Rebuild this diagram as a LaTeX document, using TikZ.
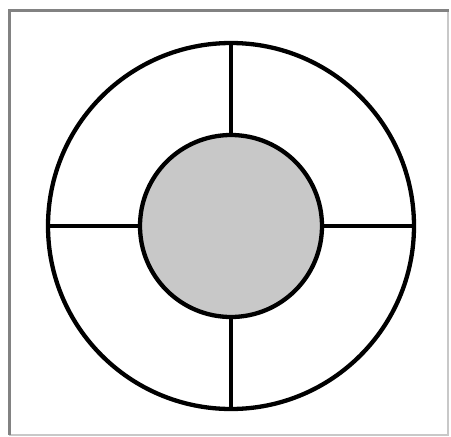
\documentclass[tikz,border=0pt]{standalone}
\begin{document}
\begin{tikzpicture}[x=1pt,y=-1pt]
\path[use as bounding box,fill=white] (0,0) rectangle (451,437);
\tikzset{ring/.style={circle,draw=black,line width=4.3pt,inner sep=0pt,outer sep=0pt}}
% frame
\draw[draw={rgb,255:red,200;green,200;blue,200},line width=1.2pt] (448,10) -- (448,435) -- (9,435);
\draw[draw={rgb,255:red,130;green,130;blue,130},line width=3pt] (9,435) -- (9,10) -- (449,10);
% wheel
\node[ring,minimum size=366pt] (rim) at (231,226) {};
\node[ring,fill={rgb,255:red,200;green,200;blue,200},minimum size=182pt] (hub) at (231,226) {};
\draw[line width=4.3pt] (rim.north) -- (hub.north);
\draw[line width=4.3pt] (rim.south) -- (hub.south);
\draw[line width=4.3pt] (rim.west) -- (hub.west);
\draw[line width=4.3pt] (rim.east) -- (hub.east);
\end{tikzpicture}
\end{document}
